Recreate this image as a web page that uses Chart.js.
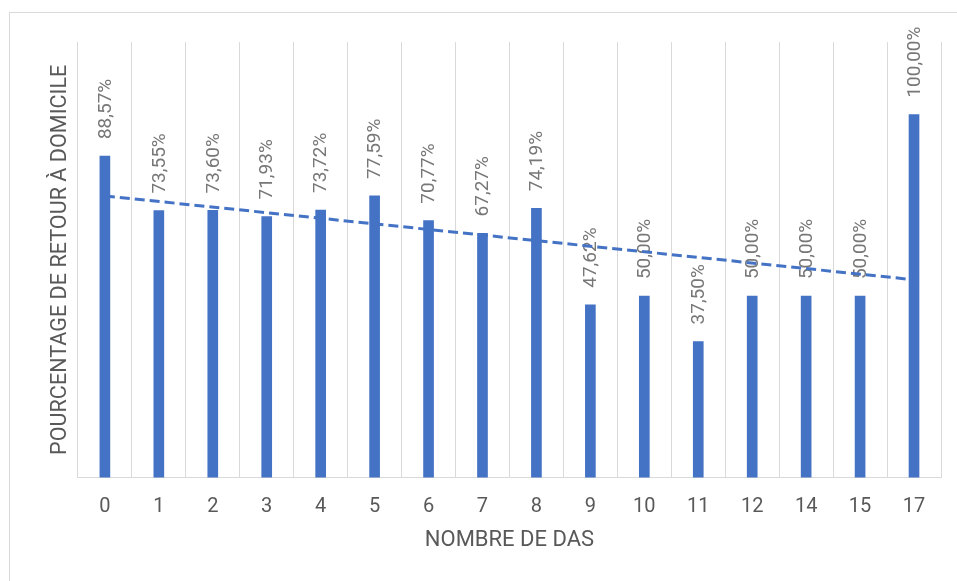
<!DOCTYPE html>
<html>
<head>
<meta charset="utf-8">
<script src="https://cdn.jsdelivr.net/npm/chart.js@4.4.1/dist/chart.umd.min.js"></script>
<style>
  html, body { margin: 0; padding: 0; background: #fff; }
  #wrap { position: relative; width: 957px; height: 581px; overflow: hidden; }
  #frame { position: absolute; left: 9px; top: 12px; width: 980px; height: 600px; border: 1px solid #d9d9d9; box-sizing: border-box; }
  canvas { position: absolute; left: 0; top: 0; }
</style>
</head>
<body>
<div id="wrap">
  <div id="frame"></div>
  <canvas id="grafico" width="957" height="581"></canvas>
</div>
<script>
// categories (nombre de DAS) and values in percent
const categories = ["0", "1", "2", "3", "4", "5", "6", "7", "8", "9", "10", "11", "12", "14", "15", "17"];
const percentages = [88.57, 73.55, 73.60, 71.93, 73.72, 77.59, 70.77, 67.27, 74.19, 47.62, 50.00, 37.50, 50.00, 50.00, 50.00, 100.00];
// trend line, ends
const trendLine = [77.6, null, null, null, null, null, null, null, null, null, null, null, null, null, null, 54.5];

const BLUE = "#4472c4";

// etiquettes verticales au-dessus des barres
const barLabels = {
  id: "barLabels",
  beforeDatasetsDraw(chart) {
    const meta = chart.getDatasetMeta(0);
    const ctx = chart.ctx;
    ctx.save();
    ctx.font = "19px Roboto";
    ctx.fillStyle = "#777777";
    ctx.textAlign = "left";
    ctx.textBaseline = "middle";
    meta.data.forEach((bar, i) => {
      const txt = percentages[i].toFixed(2).replace(".", ",") + "%";
      ctx.save();
      ctx.translate(bar.x + 1, bar.y - 17);
      ctx.rotate(-Math.PI / 2);
      ctx.fillText(txt, 0, 0);
      ctx.restore();
    });
    ctx.restore();
  }
};

const ctx = document.getElementById("grafico").getContext("2d");
new Chart(ctx, {
  type: "bar",
  data: {
    labels: categories,
    datasets: [
      {
        type: "bar",
        data: percentages,
        backgroundColor: BLUE,
        barThickness: 10,
        order: 1
      },
      {
        type: "line",
        data: trendLine,
        borderColor: BLUE,
        borderWidth: 3,
        borderDash: [10, 5],
        pointRadius: 0,
        spanGaps: true,
        fill: false,
        order: 0
      }
    ]
  },
  options: {
    responsive: false,
    animation: false,
    layout: { padding: { left: 38, right: 16, top: 42, bottom: 27 } },
    plugins: { legend: { display: false }, tooltip: { enabled: false } },
    scales: {
      x: {
        grid: { display: true, color: "#d9d9d9", lineWidth: 1, drawTicks: false, offset: true },
        border: { display: true, color: "#d9d9d9" },
        ticks: { color: "#595959", font: { family: "Roboto", size: 20 }, padding: 17 },
        title: {
          display: true, text: "NOMBRE DE DAS", color: "#595959",
          font: { family: "Roboto", size: 22 }, padding: { top: -8, bottom: 0 }
        }
      },
      y: {
        min: 0, max: 120,
        grid: { display: false },
        border: { display: false },
        ticks: { display: false },
        title: {
          display: true, text: "POURCENTAGE DE RETOUR À DOMICILE", color: "#595959",
          font: { family: "Roboto", size: 21.6 }, padding: { top: 10, bottom: -4 }
        }
      }
    }
  },
  plugins: [barLabels]
});
</script>
</body>
</html>
